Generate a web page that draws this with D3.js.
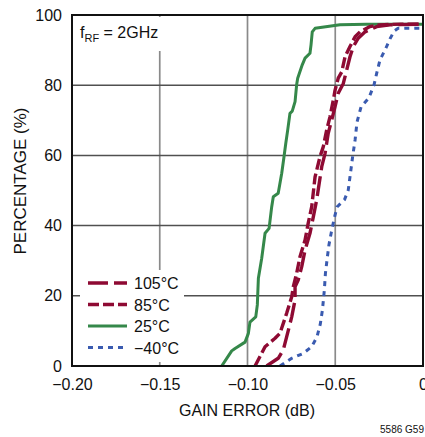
<!DOCTYPE html>
<html><head><meta charset="utf-8">
<script src="https://cdn.jsdelivr.net/npm/d3@7"></script>
<style>
html,body{margin:0;padding:0;background:#fff;overflow:hidden}
svg{display:block;font-family:"Liberation Sans",Arial,sans-serif}
</style></head>
<body>
<svg id="c" width="425" height="437"></svg>
<script>
const xTicks = [-0.20, -0.15, -0.10, -0.05, 0];
const xTickLabels = ["\u22120.20", "\u22120.15", "\u22120.10", "\u22120.05", "0"];
const yTicks = [0, 20, 40, 60, 80, 100];
const seriesNames = ["105\u00B0C", "85\u00B0C", "25\u00B0C", "\u221240\u00B0C"];

// [gain error (dB), percentage]
const data105 = [[-0.0891,0],[-0.0825,2.2],[-0.0796,4.6],[-0.0777,8.3],[-0.0748,14.0],[-0.0729,18.8],[-0.0729,22.6],[-0.0711,24.5],[-0.0691,28.3],[-0.0672,33.0],[-0.0644,37.8],[-0.0625,42.5],[-0.0606,47.3],[-0.0577,56.8],[-0.0558,60.6],[-0.0540,66.3],[-0.0520,70.1],[-0.0501,73.9],[-0.0483,77.7],[-0.0454,80.5],[-0.0435,84.3],[-0.0416,88.1],[-0.0397,91.0],[-0.0369,93.4],[-0.0330,95.2],[-0.0264,96.7],[-0.0188,97.2],[0,97.4]];
const data85 = [[-0.0957,0],[-0.0900,5.5],[-0.0843,7.9],[-0.0815,9.3],[-0.0777,15.0],[-0.0748,19.7],[-0.0739,22.6],[-0.0720,26.4],[-0.0701,31.1],[-0.0672,35.9],[-0.0654,40.7],[-0.0634,45.4],[-0.0615,53.9],[-0.0587,59.6],[-0.0568,62.5],[-0.0549,67.2],[-0.0530,71.0],[-0.0511,75.8],[-0.0501,78.6],[-0.0483,82.0],[-0.0463,83.8],[-0.0444,88.1],[-0.0416,91.0],[-0.0387,93.8],[-0.0359,95.2],[-0.0302,96.7],[-0.0245,97.2],[-0.0131,97.4],[0,97.4]];
const data25 = [[-0.1147,0],[-0.1090,4.3],[-0.1071,5.0],[-0.1014,6.8],[-0.0995,9.3],[-0.0986,12.5],[-0.0953,14.0],[-0.0944,17.4],[-0.0938,25.0],[-0.0919,30.7],[-0.0900,37.8],[-0.0877,39.2],[-0.0862,45.4],[-0.0853,48.2],[-0.0825,49.2],[-0.0805,54.9],[-0.0792,59.6],[-0.0782,63.4],[-0.0771,67.2],[-0.0758,72.0],[-0.0745,72.6],[-0.0729,75.3],[-0.0720,80.1],[-0.0714,82.0],[-0.0688,85.8],[-0.0672,87.7],[-0.0644,89.1],[-0.0638,91.5],[-0.0631,95.2],[-0.0615,96.2],[-0.0473,97.2],[-0.0321,97.4],[0,97.4]];
const dataM40 = [[-0.0815,0],[-0.0748,2.2],[-0.0682,3.6],[-0.0634,5.5],[-0.0604,8.3],[-0.0585,12.0],[-0.0573,16.0],[-0.0562,21.7],[-0.0556,26.4],[-0.0547,30.2],[-0.0536,34.5],[-0.0522,38.2],[-0.0505,42.2],[-0.0490,45.3],[-0.0447,47.4],[-0.0426,50.1],[-0.0416,53.9],[-0.0401,59.6],[-0.0387,64.4],[-0.0376,69.5],[-0.0353,73.8],[-0.0308,76.4],[-0.0279,80.1],[-0.0262,83.8],[-0.0245,87.2],[-0.0211,90.6],[-0.0188,93.2],[-0.0165,95.4],[-0.0142,96.2],[0,96.2]];

const colors = ["#8e0a33", "#8e0a33", "#35884a", "#3a5bb0"];
const dashes = ["20,6", "11,4", null, "5,5"];
const widths = [3.4, 3.4, 3.0, 3.0];
const drawOrder = [3, 2, 1, 0];

const svg = d3.select("#c");
const L = 72, R = 423, T = 15, B = 366;
const x = d3.scaleLinear().domain([-0.2, 0]).range([L, R]);
const y = d3.scaleLinear().domain([0, 100]).range([B, T]);

// grid
const g = svg.append("g");
g.selectAll(".vg").data(xTicks.slice(1, -1)).join("line")
  .attr("x1", d => x(d)).attr("x2", d => x(d)).attr("y1", T).attr("y2", B)
  .attr("stroke", "#8a8a8a").attr("stroke-width", 1.7);
g.selectAll(".hg").data(yTicks.slice(1, -1)).join("line")
  .attr("x1", L).attr("x2", R).attr("y1", d => y(d)).attr("y2", d => y(d))
  .attr("stroke", "#505050").attr("stroke-width", 1.5);

// white boxes behind annotation and legend
svg.append("rect").attr("x", 74).attr("y", 17).attr("width", 92).attr("height", 34).attr("fill", "#fff");
svg.append("rect").attr("x", 80).attr("y", 270).attr("width", 104).attr("height", 92).attr("fill", "#fff");

// clip
svg.append("clipPath").attr("id", "clip").append("rect")
  .attr("x", L).attr("y", T - 2).attr("width", R - L).attr("height", B - T + 2);

const line = d3.line().x(d => x(d[0])).y(d => y(d[1]));
const seriesByName = [data105, data85, data25, dataM40];
const cg = svg.append("g").attr("clip-path", "url(#clip)");
drawOrder.forEach(i => {
  cg.append("path").datum(seriesByName[i]).attr("d", line)
    .attr("fill", "none").attr("stroke", colors[i]).attr("stroke-width", widths[i])
    .attr("stroke-dasharray", dashes[i]).attr("stroke-linejoin", "round");
});

// frame
svg.append("rect").attr("x", L).attr("y", T).attr("width", R - L).attr("height", B - T)
  .attr("fill", "none").attr("stroke", "#111").attr("stroke-width", 2);

// axes labels
const xa = svg.append("g").attr("transform", `translate(0,${B})`)
  .call(d3.axisBottom(x).tickValues(xTicks).tickSize(0).tickPadding(13)
    .tickFormat((d, i) => xTickLabels[i]));
xa.select(".domain").remove();
xa.selectAll("text").attr("font-size", 16).attr("fill", "#111")
  .attr("font-family", "'Liberation Sans',Arial,sans-serif");

const ya = svg.append("g").attr("transform", `translate(${L},0)`)
  .call(d3.axisLeft(y).tickValues(yTicks).tickSize(0).tickPadding(10));
ya.select(".domain").remove();
ya.selectAll("text").attr("font-size", 16).attr("fill", "#111")
  .attr("font-family", "'Liberation Sans',Arial,sans-serif");

svg.append("text").attr("x", 247).attr("y", 416).attr("text-anchor", "middle")
  .attr("font-size", 16).attr("fill", "#111").text("GAIN ERROR (dB)");
svg.append("text").attr("transform", "translate(26,181) rotate(-90)").attr("text-anchor", "middle")
  .attr("font-size", 17).attr("fill", "#111").text("PERCENTAGE (%)");
svg.append("text").attr("x", 424).attr("y", 433).attr("text-anchor", "end")
  .attr("font-size", 10).attr("fill", "#111").text("5586 G59");

const ann = svg.append("text").attr("x", 80).attr("y", 38).attr("font-size", 16).attr("fill", "#111");
ann.append("tspan").text("f");
ann.append("tspan").attr("font-size", 11).attr("dy", 4).text("RF");
ann.append("tspan").attr("dy", -4).text(" = 2GHz");

// legend
const lg = svg.append("g");
seriesNames.forEach((name, i) => {
  const ly = 283 + i * 21.5;
  lg.append("line").attr("x1", 88).attr("x2", 127).attr("y1", ly).attr("y2", ly)
    .attr("stroke", colors[i]).attr("stroke-width", widths[i]).attr("stroke-dasharray", dashes[i]);
  lg.append("text").attr("x", 134).attr("y", ly + 6).attr("font-size", 16).attr("fill", "#111").text(name);
});
</script>
</body></html>
